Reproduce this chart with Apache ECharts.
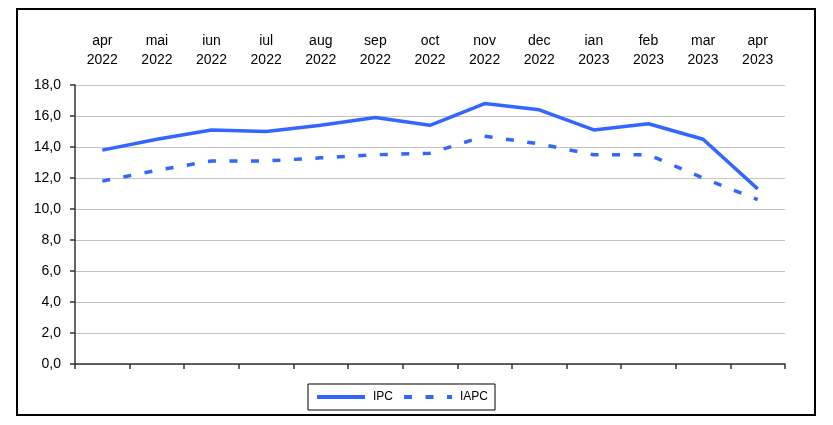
<!DOCTYPE html>
<html>
<head>
<meta charset="utf-8">
<script src="https://cdn.jsdelivr.net/npm/echarts@6/dist/echarts.min.js"></script>
<style>
  html, body { margin: 0; padding: 0; background: #fff; }
  #chart { width: 833px; height: 425px; }
</style>
</head>
<body>
<div id="chart"></div>
<script>
const months = ['apr', 'mai', 'iun', 'iul', 'aug', 'sep', 'oct', 'nov', 'dec', 'ian', 'feb', 'mar', 'apr'];
const years = ['2022', '2022', '2022', '2022', '2022', '2022', '2022', '2022', '2022', '2023', '2023', '2023', '2023'];
const ipc = [13.8, 14.5, 15.1, 15.0, 15.4, 15.9, 15.4, 16.8, 16.4, 15.1, 15.5, 14.5, 11.3];
const iapc = [11.8, 12.5, 13.1, 13.1, 13.3, 13.5, 13.6, 14.7, 14.2, 13.5, 13.5, 12.0, 10.6];
const yTicks = [0, 2, 4, 6, 8, 10, 12, 14, 16, 18];

const categories = months.map((m, i) => m + '\n' + years[i]);
const FONT = '"Liberation Sans", Arial, sans-serif';
const BLUE = '#3366ff';

const chart = echarts.init(document.getElementById('chart'), null, { renderer: 'canvas' });
chart.setOption({
  animation: false,
  backgroundColor: '#fff',
  textStyle: { fontFamily: FONT, color: '#000' },
  graphic: [{
    type: 'rect',
    shape: { x: 17, y: 9, width: 798, height: 406 },
    style: { fill: 'none', stroke: '#000', lineWidth: 2 },
    silent: true,
    z: 0
  }],
  grid: { left: 75, right: 48, top: 85, bottom: 61, containLabel: false },
  legend: {
    left: 308,
    top: 384,
    orient: 'horizontal',
    borderColor: '#000',
    borderWidth: 1,
    padding: [7, 7],
    itemWidth: 48,
    itemHeight: 14,
    itemGap: 9,
    textStyle: { fontFamily: FONT, fontSize: 12, color: '#000', padding: [0, 0, 0, 3] },
    itemStyle: { opacity: 0 },
    lineStyle: { width: 4 },
    data: ['IPC', 'IAPC']
  },
  xAxis: [{
    type: 'category',
    data: categories,
    position: 'bottom',
    boundaryGap: true,
    axisLine: { show: true, lineStyle: { color: '#333', width: 1.5 } },
    axisTick: { show: true, length: 5, lineStyle: { color: '#333', width: 1.5 } },
    axisLabel: { show: false },
    splitLine: { show: false }
  }, {
    type: 'category',
    data: categories,
    position: 'top',
    boundaryGap: true,
    axisLine: { show: false },
    axisTick: { show: false },
    axisLabel: { show: true, fontFamily: FONT, fontSize: 14, color: '#000', lineHeight: 19, margin: 15, interval: 0 },
    splitLine: { show: false }
  }],
  yAxis: {
    type: 'value',
    min: yTicks[0],
    max: yTicks[yTicks.length - 1],
    interval: 2,
    axisLine: { show: true, lineStyle: { color: '#333', width: 1.5 } },
    axisTick: { show: true, inside: false, length: 5, lineStyle: { color: '#333', width: 1.5 } },
    axisLabel: {
      fontFamily: FONT, fontSize: 14, color: '#000', margin: 14,
      formatter: v => v.toFixed(1).replace('.', ',')
    },
    splitLine: { show: true, lineStyle: { color: '#c4c4c4', width: 1 } }
  },
  series: [{
    name: 'IPC',
    type: 'line',
    xAxisIndex: 0,
    data: ipc,
    symbol: 'none',
    lineStyle: { color: BLUE, width: 3.5, cap: 'butt' },
    itemStyle: { color: BLUE }
  }, {
    name: 'IAPC',
    type: 'line',
    xAxisIndex: 0,
    data: iapc,
    symbol: 'none',
    lineStyle: { color: BLUE, width: 3.5, type: [8, 13.5], cap: 'butt' },
    itemStyle: { color: BLUE }
  }]
});
</script>
</body>
</html>
